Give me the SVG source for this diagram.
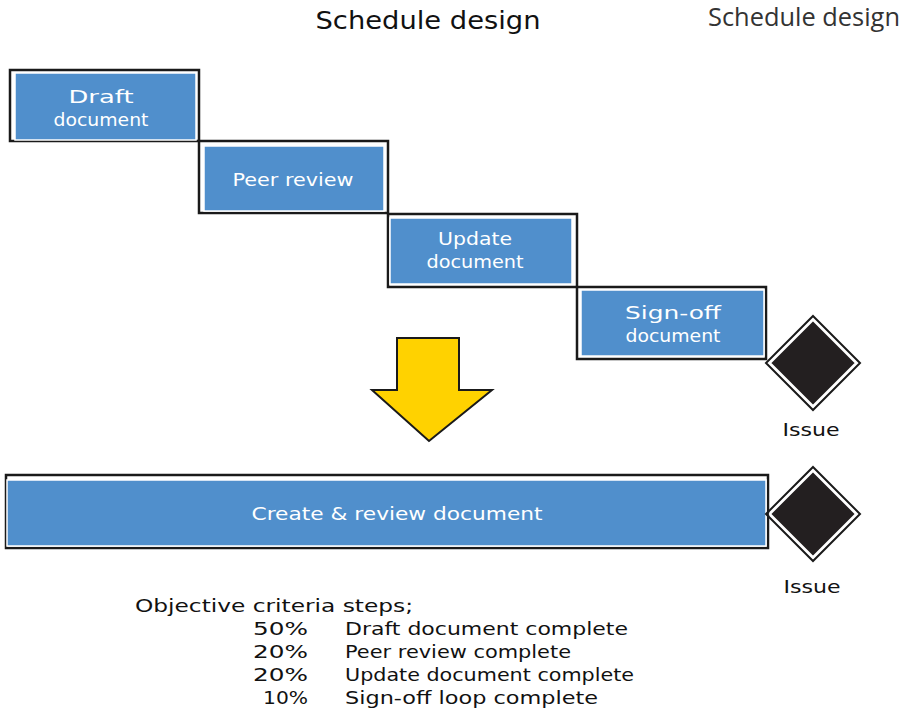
<svg xmlns="http://www.w3.org/2000/svg" width="905" height="719" viewBox="0 0 905 719">
<style>
.frame{fill:#ffffff;stroke:#1a1a1a;stroke-width:2.5}
.bar{fill:#508fcc;stroke:#ffffff;stroke-width:1.5}
.lbl{font-family:"DejaVu Sans","Liberation Sans",sans-serif;font-size:18px;fill:#ffffff;text-anchor:middle}
.txt{font-family:"DejaVu Sans","Liberation Sans",sans-serif;font-size:18px;fill:#111111}
.dia{fill:#231f20;stroke:#ffffff;stroke-width:2}
.diao{fill:none;stroke:#1a1a1a;stroke-width:2}
</style>
<rect width="905" height="719" fill="#ffffff"/>
<text x="428" y="29" class="txt" style="font-size:24px" text-anchor="middle" textLength="225" lengthAdjust="spacingAndGlyphs">Schedule design</text>
<text x="900" y="26" style="font-family:'Open Sans','Liberation Sans',sans-serif;font-size:25px;fill:#333333" text-anchor="end" textLength="192" lengthAdjust="spacingAndGlyphs">Schedule design</text>

<g id="draft">
<rect class="frame" x="10" y="70" width="189" height="71"/>
<rect class="bar" x="15" y="73" width="181" height="67"/>
<text class="lbl" x="101" y="103" textLength="65" lengthAdjust="spacingAndGlyphs">Draft</text>
<text class="lbl" x="101" y="126" textLength="95" lengthAdjust="spacingAndGlyphs">document</text>
</g>
<g id="peer">
<rect class="frame" x="199" y="141" width="189" height="72"/>
<rect class="bar" x="204" y="146" width="180" height="65"/>
<text class="lbl" x="293" y="186" textLength="121" lengthAdjust="spacingAndGlyphs">Peer review</text>
</g>
<g id="update">
<rect class="frame" x="388" y="214" width="189" height="73"/>
<rect class="bar" x="390" y="218" width="182" height="66"/>
<text class="lbl" x="475" y="245" textLength="74" lengthAdjust="spacingAndGlyphs">Update</text>
<text class="lbl" x="475" y="268" textLength="97" lengthAdjust="spacingAndGlyphs">document</text>
</g>
<g id="signoff">
<rect class="frame" x="577" y="287" width="189" height="72"/>
<rect class="bar" x="581" y="290" width="183" height="66"/>
<text class="lbl" x="673" y="319" textLength="96" lengthAdjust="spacingAndGlyphs">Sign-off</text>
<text class="lbl" x="673" y="342" textLength="95" lengthAdjust="spacingAndGlyphs">document</text>
</g>
<g id="issue1">
<polygon class="diao" points="813,316 860,363 813,410 766,363"/>
<polygon class="dia" points="813,320 856,363 813,406 770,363"/>
<text class="txt" x="811" y="436" text-anchor="middle" textLength="57" lengthAdjust="spacingAndGlyphs">Issue</text>
</g>
<g id="arrow">
<polygon points="397,338 459,338 459,390 492,390 429,441 372,390 397,390" fill="#ffd200" stroke="#1a1a1a" stroke-width="2"/>
</g>
<g id="create">
<rect class="frame" x="6" y="475" width="762" height="73"/>
<rect class="bar" x="7" y="480" width="759" height="66"/>
<text class="lbl" x="397" y="520" textLength="291" lengthAdjust="spacingAndGlyphs">Create &amp; review document</text>
</g>
<g id="issue2">
<polygon class="diao" points="813,467 860,514 813,561 766,514"/>
<polygon class="dia" points="813,471 856,514 813,557 770,514"/>
<text class="txt" x="812" y="593" text-anchor="middle" textLength="57" lengthAdjust="spacingAndGlyphs">Issue</text>
</g>
<g id="criteria" class="txt">
<text x="135" y="612" textLength="278" lengthAdjust="spacingAndGlyphs">Objective criteria steps;</text>
<text x="253" y="635" textLength="55" lengthAdjust="spacingAndGlyphs">50%</text>
<text x="345" y="635" textLength="283" lengthAdjust="spacingAndGlyphs">Draft document complete</text>
<text x="253" y="658" textLength="55" lengthAdjust="spacingAndGlyphs">20%</text>
<text x="345" y="658" textLength="226" lengthAdjust="spacingAndGlyphs">Peer review complete</text>
<text x="253" y="681" textLength="55" lengthAdjust="spacingAndGlyphs">20%</text>
<text x="345" y="681" textLength="289" lengthAdjust="spacingAndGlyphs">Update document complete</text>
<text x="263" y="704" textLength="45" lengthAdjust="spacingAndGlyphs">10%</text>
<text x="345" y="704" textLength="253" lengthAdjust="spacingAndGlyphs">Sign-off loop complete</text>
</g>
<g id="connectors"></g>
</svg>
